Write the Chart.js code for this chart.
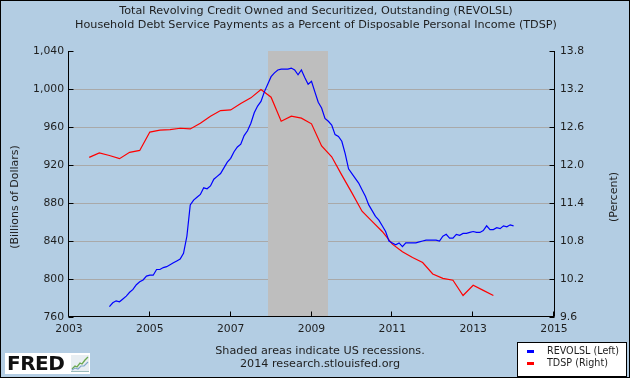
<!DOCTYPE html>
<html>
<head>
<meta charset="utf-8">
<script src="https://cdn.jsdelivr.net/npm/chart.js@4.4.1/dist/chart.umd.min.js"></script>
<style>
html,body{margin:0;padding:0;background:#B3CDE3;}
#wrap{position:relative;width:630px;height:378px;background:#B3CDE3;overflow:hidden;font-family:"DejaVu Sans",Verdana,sans-serif;color:#1e1e1e;}
#c{position:absolute;left:0;top:0;}
.t{position:absolute;white-space:nowrap;}
#title{left:0;top:4px;width:632px;text-align:center;font-size:11.2px;line-height:14px;}
#foot{left:0;top:344px;width:640px;text-align:center;font-size:11.2px;line-height:13px;}
#legend{position:absolute;left:517px;top:342px;width:108px;height:33px;background:#fff;border:1px solid #000;font-size:9.6px;}
#legend .sw{position:absolute;left:9px;width:7px;height:3px;}
#legend .lt{position:absolute;left:29px;line-height:12px;}
#logo{position:absolute;left:5px;top:353px;width:85px;height:21px;background:#fff;}
#logo span{position:absolute;left:2px;top:-2px;font:bold 20px "DejaVu Sans",sans-serif;color:#111;letter-spacing:-0.5px;}
#logo svg{position:absolute;left:66px;top:2px;}
#frame{position:absolute;left:0;top:0;width:630px;height:378px;box-sizing:border-box;border:1px solid #000;pointer-events:none;}
</style>
</head>
<body>
<div id="wrap">
  <canvas id="c" width="630" height="378"></canvas>
  <div class="t" id="title">Total Revolving Credit Owned and Securitized, Outstanding (REVOLSL)<br>Household Debt Service Payments as a Percent of Disposable Personal Income (TDSP)</div>
  <div class="t" id="foot">Shaded areas indicate US recessions.<br>2014 research.stlouisfed.org</div>
  <div id="legend">
    <div class="sw" style="top:7px;background:#0000FF;"></div>
    <div class="t lt" style="top:2px;">REVOLSL (Left)</div>
    <div class="sw" style="top:19px;background:#FF0000;"></div>
    <div class="t lt" style="top:14px;">TDSP (Right)</div>
  </div>
  <div id="logo"><span>FRED</span>
    <svg width="18" height="17" viewBox="0 0 18 17">
      <rect x="0" y="0" width="18" height="17" fill="#e8eef2"/>
      <polyline points="1,14 4,11 6,12 9,8 11,9 14,5 17,2" fill="none" stroke="#6aa84f" stroke-width="1.3"/>
      <polyline points="1,15 4,13 7,14 10,11 13,11 17,7" fill="none" stroke="#7fa7c9" stroke-width="1.1"/>
      <line x1="0" y1="16.5" x2="18" y2="16.5" stroke="#9bb" stroke-width="1"/>
    </svg>
  </div>
  <div id="frame"></div>
</div>
<script>
// ---- data ----
// REVOLSL, monthly, billions of dollars, starting Jan 2004
const revolslStart = [2004, 1];
const revolsl = [
  771, 775, 777, 776, 779, 782, 786, 789, 794, 797, 799, 803,      // 2004
  804, 804, 810, 810, 812, 813, 815, 817, 819, 821, 827, 845,      // 2005
  878, 883, 886, 889, 896, 895, 898, 905, 908, 911, 917, 923,      // 2006
  927, 934, 939, 942, 951, 956, 964, 975, 982, 987, 997, 1005,     // 2007
  1013, 1017, 1020, 1021, 1021, 1021, 1022, 1020, 1015, 1020, 1012, 1005, // 2008
  1008, 997, 986, 980, 969, 966, 962, 952, 950, 945, 932, 916,     // 2009
  911, 906, 901, 894, 887, 878, 872, 866, 862, 856, 850, 840,      // 2010
  838, 836, 838, 834, 838, 838, 838, 838, 839, 840, 841, 841,      // 2011
  841, 841, 840, 845, 847, 843, 843, 847, 846, 848, 848, 849,      // 2012
  850, 849, 849, 851, 856, 852, 852, 854, 853, 856, 855, 857,      // 2013
  856                                                              // 2014
];
// TDSP, quarterly, percent, starting 2003 Q3 (quarter start month 7)
const tdspStart = [2003, 7];
const tdsp = [
  12.12, 12.19,                 // 2003
  12.15, 12.10, 12.20, 12.23,   // 2004
  12.52, 12.55, 12.56, 12.58,   // 2005
  12.57, 12.66, 12.77, 12.86,   // 2006
  12.87, 12.97, 13.06, 13.19,   // 2007
  13.07, 12.69, 12.77, 12.74,   // 2008
  12.65, 12.30, 12.13, 11.84,   // 2009
  11.56, 11.27, 11.11, 10.95,   // 2010
  10.75, 10.63, 10.54, 10.46,   // 2011
  10.28, 10.21, 10.18, 9.94,    // 2012
  10.10, 10.02, 9.94            // 2013
];
// recession period (Dec 2007 - Jun 2009) as decimal years
const recessions = [[2007 + 11/12, 2009 + 5/12]];
// tick labels and axis titles
const xTicks = [2003, 2005, 2007, 2009, 2011, 2013, 2015];
const leftTicks = [760, 800, 840, 880, 920, 960, 1000, 1040];
const rightTicks = [9.6, 10.2, 10.8, 11.4, 12.0, 12.6, 13.2, 13.8];
const leftTitle = '(Billions of Dollars)';
const rightTitle = '(Percent)';

const revolslPts = revolsl.map((v, i) => ({x: revolslStart[0] + (revolslStart[1] - 1 + i) / 12, y: v}));
const tdspPts = tdsp.map((v, i) => ({x: tdspStart[0] + (tdspStart[1] - 1 + i * 3) / 12, y: v}));

const FAMILY = '"DejaVu Sans", Verdana, sans-serif';
const FONT = {family: FAMILY, size: 10.8};
const TXT = '#1e1e1e';

const recessionPlugin = {
  id: 'recession',
  beforeDatasetsDraw(chart) {
    const {ctx, chartArea: a, scales: {x}} = chart;
    ctx.save();
    ctx.fillStyle = '#BEBEBE';
    recessions.forEach(([s, e]) => {
      const x0 = Math.round(x.getPixelForValue(s)), x1 = Math.round(x.getPixelForValue(e));
      ctx.fillRect(x0, a.top, x1 - x0, a.bottom - a.top);
    });
    ctx.restore();
  }
};

const axesPlugin = {
  id: 'axesFrame',
  afterDatasetsDraw(chart) {
    const {ctx, chartArea: a, scales} = chart;
    ctx.save();
    ctx.strokeStyle = '#000';
    ctx.lineWidth = 1;
    ctx.beginPath();
    const L = a.left - 0.5, R = a.right + 0.5, B = a.bottom - 0.5;
    ctx.moveTo(L, a.top); ctx.lineTo(L, B); ctx.lineTo(R, B); ctx.lineTo(R, a.top);
    leftTicks.forEach(v => { const y = Math.round(scales.yL.getPixelForValue(v)) + 0.5; ctx.moveTo(L, y); ctx.lineTo(L + 5, y); });
    rightTicks.forEach(v => { const y = Math.round(scales.yR.getPixelForValue(v)) + 0.5; ctx.moveTo(R, y); ctx.lineTo(R - 5, y); });
    xTicks.forEach(v => { const xx = Math.round(scales.x.getPixelForValue(v)) - 0.5; ctx.moveTo(xx, B); ctx.lineTo(xx, B - 5); });
    ctx.stroke();
    ctx.restore();
  },
  afterDraw(chart) {
    const ctx = chart.ctx;
    ctx.save();
    ctx.fillStyle = TXT;
    ctx.font = '11px ' + FAMILY;
    ctx.textAlign = 'center';
    ctx.textBaseline = 'middle';
    ctx.translate(15, 197); ctx.rotate(-Math.PI / 2);
    ctx.fillText(leftTitle, 0, 0);
    ctx.restore();
    ctx.save();
    ctx.fillStyle = TXT;
    ctx.font = '11px ' + FAMILY;
    ctx.textAlign = 'center';
    ctx.textBaseline = 'middle';
    ctx.translate(614, 197); ctx.rotate(-Math.PI / 2);
    ctx.fillText(rightTitle, 0, 0);
    ctx.restore();
  }
};

new Chart(document.getElementById('c'), {
  type: 'line',
  data: {
    datasets: [
      {label: 'REVOLSL (Left)', data: revolslPts, yAxisID: 'yL', borderColor: '#0000FF', borderWidth: 1.2, pointRadius: 0, tension: 0, fill: false},
      {label: 'TDSP (Right)', data: tdspPts, yAxisID: 'yR', borderColor: '#FF0000', borderWidth: 1.2, pointRadius: 0, tension: 0, fill: false}
    ]
  },
  options: {
    responsive: false,
    animation: false,
    devicePixelRatio: 1,
    layout: {padding: {top: 51, left: 0, right: 0, bottom: 0}},
    plugins: {legend: {display: false}, tooltip: {enabled: false}, title: {display: false}},
    scales: {
      x: {
        type: 'linear', min: 2003, max: 2015,
        afterBuildTicks: s => { s.ticks = xTicks.map(v => ({value: v})); },
        afterFit: s => { s.height = 61; },
        grid: {display: false, drawTicks: false},
        border: {display: false},
        ticks: {font: FONT, color: TXT, padding: 6, maxRotation: 0, autoSkip: false, callback: v => String(v)}
      },
      yL: {
        type: 'linear', position: 'left', min: 760, max: 1040,
        afterBuildTicks: s => { s.ticks = leftTicks.map(v => ({value: v})); },
        afterFit: s => { s.width = 69; },
        grid: {drawTicks: false, lineWidth: 1, color: c => (c.tick && (c.tick.value === 760 || c.tick.value === 1040)) ? 'rgba(0,0,0,0)' : '#A9A9A9'},
        border: {display: false},
        ticks: {font: FONT, color: TXT, padding: 5, callback: v => v.toLocaleString('en-US')}
      },
      yR: {
        type: 'linear', position: 'right', min: 9.6, max: 13.8,
        afterBuildTicks: s => { s.ticks = rightTicks.map(v => ({value: v})); },
        afterFit: s => { s.width = 76; },
        grid: {display: false, drawTicks: false},
        border: {display: false},
        ticks: {font: FONT, color: TXT, padding: 6, callback: v => v.toFixed(1)}
      }
    }
  },
  plugins: [recessionPlugin, axesPlugin]
});
</script>
</body>
</html>
